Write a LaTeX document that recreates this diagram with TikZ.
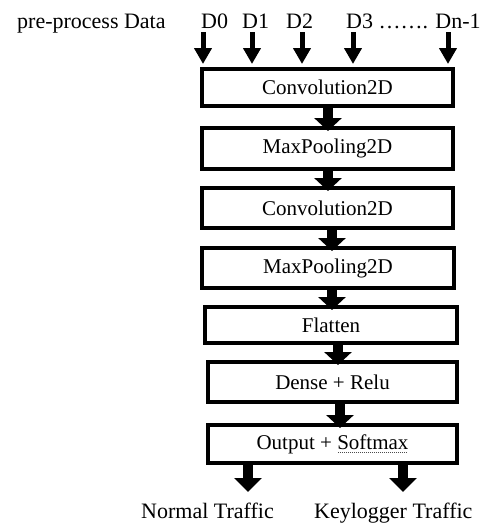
\documentclass[tikz,border=0pt]{standalone}
\usepackage{fontspec}
\setmainfont{Liberation Serif}
\usetikzlibrary{arrows.meta}

% gray dotted mark under a word (spell-check style)
\newcommand\spellmark[1]{\setbox0=\hbox{#1}%
  \rlap{\color{gray!60!black}\raisebox{-3.5pt}{\hbox to \wd0{\leaders\hbox to 2pt{\hss\rule{0.9pt}{0.8pt}\hss}\hfill}}}\box0}

\tikzset{
  layer/.style={draw, line width=3.8pt, inner sep=0pt, outer sep=0pt,
    font=\fontsize{21}{24}\selectfont},
  lbl/.style={inner sep=0pt, font=\fontsize{22}{25}\selectfont},
  inarrow/.style={line width=5pt, -{Triangle[width=17pt,length=16pt]}, shorten >=5pt},
  flowarrow/.style={line width=10pt, -{Triangle[width=27pt,length=13pt]}, shorten >=-3pt},
  outarrow/.style={line width=10pt, -{Triangle[width=27pt,length=14pt]}},
}

\begin{document}
\begin{tikzpicture}[x=1pt,y=-1pt]
\useasboundingbox (0,0) rectangle (485,523);

% input labels
\node[lbl, anchor=base west] (pre) at (17,28) {pre-process Data};
\node[lbl, anchor=base west] (l0) at (201,28) {D0};
\node[lbl, anchor=base west] (l1) at (242,28) {D1};
\node[lbl, anchor=base west] (l2) at (286,28) {D2};
\node[lbl, anchor=base west] (l3) at (346,28) {D3 ……. Dn-1};

% network layers
\node[layer, minimum width=251pt, minimum height=37pt] (c1) at (327.5,87.5) {Convolution2D};
\node[layer, minimum width=251pt, minimum height=41pt] (p1) at (327.5,148.5) {MaxPooling2D};
\node[layer, minimum width=251pt, minimum height=40pt] (c2) at (327.5,208) {Convolution2D};
\node[layer, minimum width=252pt, minimum height=40pt] (p2) at (328,268) {MaxPooling2D};
\node[layer, minimum width=252pt, minimum height=36pt] (fl) at (331,325) {Flatten};
\node[layer, minimum width=249pt, minimum height=40pt] (de) at (332.5,382) {Dense + Relu};
\node[layer, minimum width=249pt, minimum height=38pt] (out) at (332.5,444) {Output + \spellmark{Softmax}};

% input arrows
\coordinate (d0) at (203,32);
\coordinate (d1) at (252,32);
\coordinate (d2) at (302,32);
\coordinate (d3) at (353,32);
\coordinate (dn) at (448,32);
\foreach \d in {d0,d1,d2,d3,dn}
  \draw[inarrow] (\d) -- (\d |- c1.north);

% arrows between layers
\coordinate (x1) at ([xshift=0.5pt]c1.south);
\coordinate (x2) at ([xshift=0.5pt]p1.south);
\coordinate (x3) at ([xshift=4.5pt]c2.south);
\coordinate (x4) at ([xshift=4pt]p2.south);
\coordinate (x5) at ([xshift=7pt]fl.south);
\coordinate (x6) at ([xshift=7.5pt]de.south);
\draw[flowarrow] (x1) -- (x1 |- p1.north);
\draw[flowarrow] (x2) -- (x2 |- c2.north);
\draw[flowarrow] (x3) -- (x3 |- p2.north);
\draw[flowarrow] (x4) -- (x4 |- fl.north);
\draw[flowarrow] (x5) -- (x5 |- de.north);
\draw[flowarrow] (x6) -- (x6 |- out.north);

% outputs
\coordinate (n1) at (248,492);
\coordinate (n2) at (403,492);
\draw[outarrow] (n1 |- out.south) -- (n1);
\draw[outarrow] (n2 |- out.south) -- (n2);
\node[lbl, anchor=base west] (normal) at (141,518) {Normal Traffic};
\node[lbl, anchor=base west] (keylog) at (314,518) {Keylogger Traffic};
\end{tikzpicture}
\end{document}
